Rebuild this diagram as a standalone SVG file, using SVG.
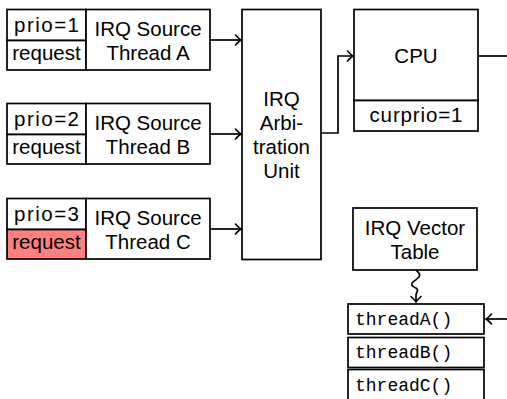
<svg xmlns="http://www.w3.org/2000/svg" width="507" height="399" viewBox="0 0 507 399">
<style>
.box{fill:#fff;stroke:#000;stroke-width:1.7}
.req{fill:#FF8080;stroke:#000;stroke-width:1.7}
.t{font-family:"Liberation Sans",Arial,sans-serif;font-size:20.5px;fill:#000;text-anchor:middle}
.m{font-family:"Liberation Mono","Courier New",monospace;font-size:18px;fill:#000}
.c{fill:none;stroke:#000;stroke-width:1.7}
</style>
<defs>
<marker id="ah" markerUnits="userSpaceOnUse" markerWidth="12" markerHeight="12" refX="0" refY="0" viewBox="-7 -6 8 12" orient="auto" overflow="visible">
<path d="M-5.5,-5 Q-2,-1 0,0 Q-2,1 -5.5,5" fill="none" stroke="#000" stroke-width="1.6" stroke-linecap="round"/>
</marker>
</defs>
<rect width="507" height="399" fill="#fff"/>

<g id="srcA">
<rect class="box" x="7" y="9.5" width="79" height="31"/>
<rect class="box" x="7" y="40.5" width="79" height="29.5"/>
<rect class="box" x="86" y="9.5" width="124" height="60.5"/>
<text class="t" x="46.5" y="32" textLength="65" lengthAdjust="spacing">prio=1</text>
<text class="t" x="46.5" y="60">request</text>
<text class="t" x="148" y="36">IRQ Source</text>
<text class="t" x="148" y="60">Thread A</text>
</g>

<g id="srcB">
<rect class="box" x="7" y="103.5" width="79" height="31"/>
<rect class="box" x="7" y="134.5" width="79" height="29.5"/>
<rect class="box" x="86" y="103.5" width="124" height="60.5"/>
<text class="t" x="46.5" y="126" textLength="65" lengthAdjust="spacing">prio=2</text>
<text class="t" x="46.5" y="154">request</text>
<text class="t" x="148" y="130">IRQ Source</text>
<text class="t" x="148" y="154">Thread B</text>
</g>

<g id="srcC">
<rect class="box" x="7" y="198.5" width="79" height="31"/>
<rect class="req" x="7" y="229.5" width="79" height="29.5"/>
<rect class="box" x="86" y="198.5" width="124" height="60.5"/>
<text class="t" x="46.5" y="221" textLength="65" lengthAdjust="spacing">prio=3</text>
<text class="t" x="46.5" y="249">request</text>
<text class="t" x="148" y="225">IRQ Source</text>
<text class="t" x="148" y="249">Thread C</text>
</g>

<g id="arb">
<rect class="box" x="242" y="9.5" width="79" height="250"/>
<text class="t" x="281.5" y="106">IRQ</text>
<text class="t" x="281.5" y="130">Arbi-</text>
<text class="t" x="281.5" y="154">tration</text>
<text class="t" x="281.5" y="178">Unit</text>
</g>

<g id="cpu">
<rect class="box" x="354" y="9.5" width="124" height="91"/>
<rect class="box" x="354" y="100.5" width="124" height="30.5"/>
<text class="t" x="416" y="63">CPU</text>
<text class="t" x="416" y="122" textLength="93" lengthAdjust="spacing">curprio=1</text>
</g>

<g id="vtable">
<rect class="box" x="353" y="208" width="124" height="62"/>
<text class="t" x="415" y="235">IRQ Vector</text>
<text class="t" x="415" y="259">Table</text>
</g>

<g id="threads">
<rect class="box" x="348" y="304" width="136" height="30"/>
<rect class="box" x="348" y="337.5" width="136" height="30"/>
<rect class="box" x="348" y="369.5" width="136" height="34"/>
<text class="m" x="355" y="325">threadA()</text>
<text class="m" x="355" y="358">threadB()</text>
<text class="m" x="355" y="391">threadC()</text>
</g>

<g id="connectors">
<path class="c" d="M210,40 H241" marker-end="url(#ah)"/>
<path class="c" d="M210,134 H241" marker-end="url(#ah)"/>
<path class="c" d="M210,229 H241" marker-end="url(#ah)"/>
<path class="c" d="M321,133 H338 V56 H353" marker-end="url(#ah)"/>
<path class="c" d="M478,56 H507"/>
<path class="c" d="M507,319 H486" marker-end="url(#ah)"/>
<path class="c" d="M416,270 Q421,274 419,277 Q416,280 413,282 Q410,285 414,287 Q419,289 417,292 Q416,294 416,296 V302" marker-end="url(#ah)"/>
</g>
</svg>
